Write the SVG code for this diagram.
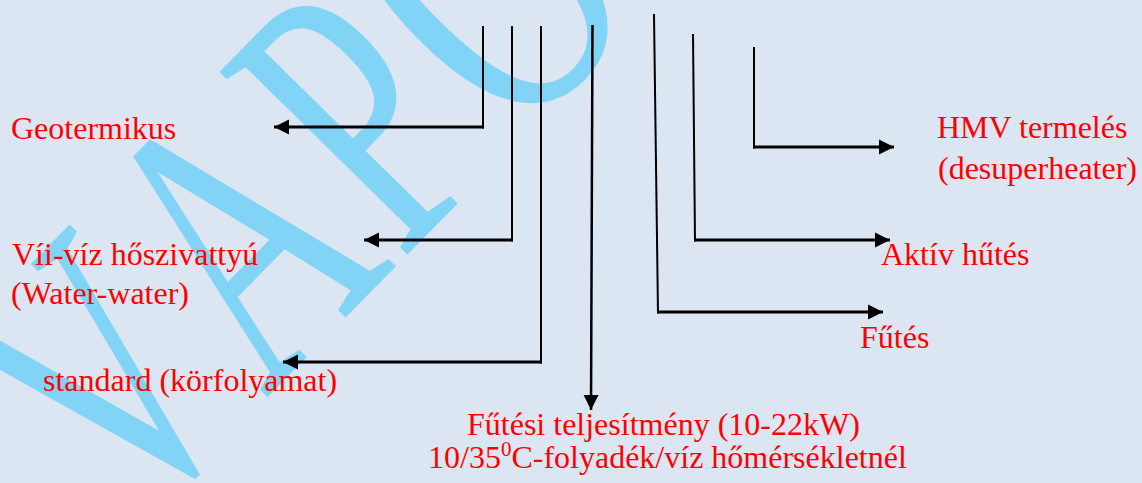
<svg xmlns="http://www.w3.org/2000/svg" width="1142" height="483" viewBox="0 0 1142 483">
<style>
.lbl{font-family:"Liberation Serif","Times New Roman",serif;font-size:32px;fill:#ff0000}
.wm{font-family:"Liberation Serif","Times New Roman",serif;font-size:260px;fill:#82d4f6;font-kerning:none}
.v{fill:none;stroke:#000;stroke-width:2}
.h{fill:none;stroke:#000;stroke-width:3}
</style>
<defs>
<marker id="arr" markerUnits="userSpaceOnUse" markerWidth="16" markerHeight="16" refX="15" refY="7.5" orient="auto" viewBox="0 0 16 15">
<path d="M0,0 L15,7.5 L0,15 z" fill="#000"/>
</marker>
</defs>
<rect x="0" y="0" width="1142" height="483" fill="#dce6f2"/>
<g id="watermark">
<text class="wm" transform="translate(127,540) rotate(-45.5) scale(1,1.54)"><tspan x="0">V</tspan><tspan x="198">A</tspan><tspan x="391">P</tspan><tspan x="550" font-size="275">O</tspan><tspan x="748">R</tspan></text>
</g>
<g id="connectors">
<line class="v" x1="483" y1="26" x2="483" y2="128.5"/>
<line class="h" x1="484" y1="127" x2="274" y2="127" marker-end="url(#arr)"/>
<line class="v" x1="512" y1="26" x2="512" y2="241.5"/>
<line class="h" x1="513" y1="240" x2="364" y2="240" marker-end="url(#arr)"/>
<line class="v" x1="541" y1="26" x2="541" y2="363.5"/>
<line class="h" x1="542" y1="362" x2="283" y2="362" marker-end="url(#arr)"/>
<line class="h" style="stroke-width:2.5" x1="592.5" y1="25" x2="591" y2="410" marker-end="url(#arr)"/>
<line class="v" x1="654" y1="14" x2="658" y2="313.5"/>
<line class="h" x1="657" y1="312" x2="883" y2="312" marker-end="url(#arr)"/>
<line class="v" x1="693" y1="34" x2="695" y2="241.5"/>
<line class="h" x1="694" y1="240" x2="890" y2="240" marker-end="url(#arr)"/>
<line class="v" x1="754" y1="47" x2="754" y2="148.5"/>
<line class="h" x1="753" y1="147" x2="894" y2="147" marker-end="url(#arr)"/>
</g>
<g id="geotermikus"><text class="lbl" x="11" y="139">Geotermikus</text></g>
<g id="viiviz"><text class="lbl" x="12" y="265">Víi-víz hőszivattyú</text><text class="lbl" x="11" y="304">(Water-water)</text></g>
<g id="standard"><text class="lbl" x="43" y="391">standard (körfolyamat)</text></g>
<g id="teljesitmeny"><text class="lbl" x="467" y="435">Fűtési teljesítmény (10-22kW)</text><text class="lbl" x="428" y="468">10/35<tspan font-size="21" dy="-12">0</tspan><tspan dy="12">C-folyadék/víz hőmérsékletnél</tspan></text></g>
<g id="hmv"><text class="lbl" x="937" y="138">HMV<tspan x="1019">termelés</tspan></text><text class="lbl" x="938" y="179">(desuperheater)</text></g>
<g id="aktiv"><text class="lbl" x="881" y="265">Aktív hűtés</text></g>
<g id="futes"><text class="lbl" x="860" y="348">Fűtés</text></g>
</svg>
